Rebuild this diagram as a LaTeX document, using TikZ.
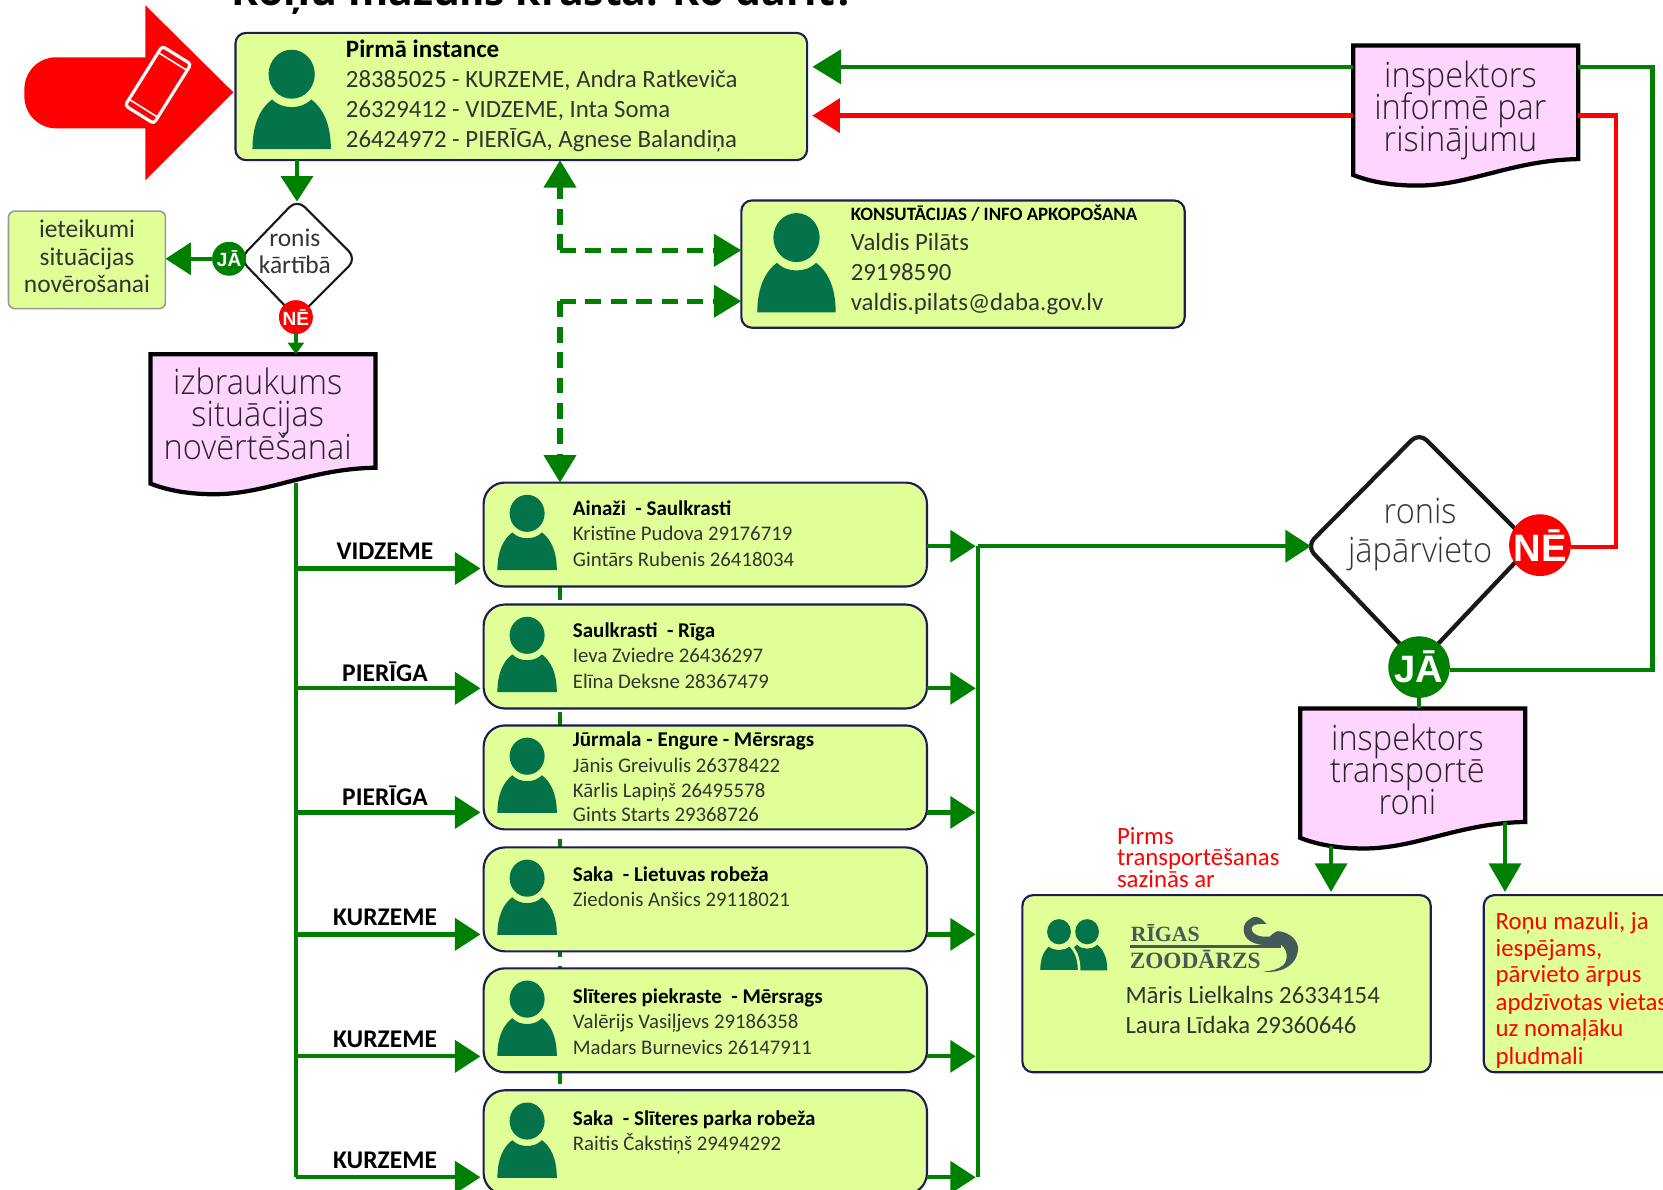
\documentclass[tikz,border=0pt]{standalone}
\usepackage{fontspec}
\usetikzlibrary{arrows.meta,shapes.geometric,calc}
\setmainfont{Carlito}
\newfontfamily\lightf[FakeStretch=0.93]{Open Sans Light}
\newfontfamily\titlef{Open Sans}
\newfontfamily\badgef{Liberation Sans}
\newfontfamily\logof{Liberation Serif}
\setlength{\lineskiplimit}{-100pt}
\definecolor{lime}{HTML}{E0FF96}
\definecolor{pinkdoc}{HTML}{FFD4FF}
\definecolor{grn}{HTML}{008000}
\definecolor{iconc}{HTML}{05734A}
\definecolor{navy}{HTML}{1E1B55}
\definecolor{slatez}{HTML}{43595A}
\definecolor{txt}{HTML}{333333}
\tikzset{
 limebox/.style={draw=navy,line width=2pt,fill=lime,rounded corners=#1,inner sep=0pt,outer sep=0pt,anchor=north west},
 limebox/.default=20pt,
 grline/.style={draw=grn,line width=4pt},
 grarrow/.style={grline,shorten >=3pt,-{Triangle[length=24pt,width=30pt]}},
 grarrowsm/.style={grline,-{Triangle[length=11pt,width=15pt]}},
 dasharrow/.style={grline,line width=5pt,dash pattern=on 15pt off 9pt,-{Triangle[length=26pt,width=30pt]}},
 redarrow/.style={draw=red,line width=4pt,shorten >=4pt,-{Triangle[length=26pt,width=32pt]}},
 docshape/.style={draw=black,line width=4pt,fill=pinkdoc,line join=miter},
 doctext/.style={font=\lightf\fontsize{33}{30.5}\selectfont,align=center,text=black!85,inner sep=0pt},
 diam/.style={draw=black!90,fill=white,line width=#1,rounded corners=10pt,line join=round},
 badgeg/.style={circle,fill=grn,text=white,inner sep=0pt},
 badger/.style={circle,fill=red,text=white,inner sep=0pt},
 region/.style={font=\bfseries\fontsize{24}{24}\selectfont,text=black,inner sep=0pt},
 rowtext/.style={anchor=base west,yshift=-7pt,inner sep=0pt,text=txt,font=\fontsize{19.6}{24}\selectfont},
 rowhead/.style={anchor=base west,yshift=-7pt,inner sep=0pt,text=black,font=\bfseries\fontsize{19.8}{24}\selectfont},
 mainline/.style={anchor=base west,yshift=-7.5pt,inner sep=0pt,text=txt,font=\fontsize{23.4}{28}\selectfont},
 redtext/.style={anchor=base west,yshift=-7.5pt,inner sep=0pt,text=red,font=\fontsize{23.4}{24}\selectfont},
}
\newcommand{\personicon}[3]{\begin{scope}[shift={(#1,#2)},scale=#3]
 \fill[iconc] (0,0) ellipse [x radius=16.5,y radius=17.5];
 \fill[iconc] (-28,53.5) -- (28,53.5) .. controls (28,35) and (22,24) .. (14,18) .. controls (10,22) and (5,23.5) .. (0,23.5) .. controls (-5,23.5) and (-10,22) .. (-14,18) .. controls (-22,24) and (-28,35) .. (-28,53.5) -- cycle;
\end{scope}}
\newcommand{\docpath}[2]{\begin{scope}[shift={(#1,#2)}]
 \path[docshape] (0,0) -- (212,0) -- (212,107) .. controls (150,108) and (110,132) .. (60,132) .. controls (35,132) and (15,128) .. (0,122) -- cycle;
\end{scope}}
\begin{document}
\begin{tikzpicture}[x=1pt,y=-1pt]
\useasboundingbox (0,0) rectangle (1568,1122);
\clip (0,0) rectangle (1568,1122);
\fill[white] (0,0) rectangle (1568,1122);
% title
\node[anchor=base west,inner sep=0pt,font=\titlef\bfseries\fontsize{38.6}{38}\selectfont,text=black] (title) at (218,5) {Roņu mazulis krastā: Ko darīt?};
% routing points
\coordinate (spineTop) at (279,455);
\coordinate (rail) at (922,515);
\coordinate (railEnd) at (922,1110);
% red arrow
\fill[red] (140,54) [rounded corners=30pt] -- (23,54) -- (23,121) [sharp corners] -- (140,121) -- cycle;
\fill[red] (137,5) -- (220,87) -- (137,170) -- cycle;
\begin{scope}[shift={(149,80)},rotate=-32]
 \draw[white,line width=3pt,rounded corners=3pt] (-16,-33) rectangle (16,33);
 \draw[white,line width=1.5pt] (-16,-26) -- (16,-26) (-16,26) -- (16,26);
\end{scope}
% dashed backbone behind boxes
\draw[grline,dash pattern=on 15pt off 9pt] (528,455) -- (528,1122);
% main boxes
\node[limebox=10pt,minimum width=539pt,minimum height=120pt] (inst) at (222,31) {};
\node[limebox=10pt,minimum width=418pt,minimum height=120pt] (kons) at (699,189) {};
\foreach \n/\t in {a/455,b/570,c/684,d/799,e/913,f/1028}{
 \node[limebox,minimum width=418pt,minimum height=98pt] (\n) at (456,\t) {};
 \personicon{497}{\t+29}{1}
}
\personicon{275}{70}{1.32}
\personicon{751}{224}{1.32}
% first instance text
\node[mainline,font=\bfseries\fontsize{23.6}{28}\selectfont,text=black] (t1) at (326,47) {Pirmā instance};
\node[mainline] (t2) at (326,75) {28385025 - KURZEME, Andra Ratkeviča};
\node[mainline] (t3) at (326,103) {26329412 - VIDZEME, Inta Soma};
\node[mainline] (t4) at (326,132) {26424972 - PIERĪGA, Agnese Balandiņa};
% consult
\node[mainline,font=\bfseries\fontsize{17.8}{20}\selectfont,text=black,yshift=1.5pt] (k1) at (802,202) {KONSUTĀCIJAS / INFO APKOPOŠANA};
\node[mainline] (k2) at (802,229) {Valdis Pilāts};
\node[mainline] (k3) at (802,257) {29198590};
\node[mainline] (k4) at (802,285) {valdis.pilats@daba.gov.lv};
% rows
\node[rowhead] (a1) at (540,479) {Ainaži\ \ - Saulkrasti};
\node[rowtext] (a2) at (540,503) {Kristīne Pudova 29176719};
\node[rowtext] (a3) at (540,527) {Gintārs Rubenis 26418034};
\node[rowhead] (b1) at (540,594) {Saulkrasti\ \ - Rīga};
\node[rowtext] (b2) at (540,618) {Ieva Zviedre 26436297};
\node[rowtext] (b3) at (540,642) {Elīna Deksne 28367479};
\node[rowhead] (c1) at (540,697) {Jūrmala - Engure - Mērsrags};
\node[rowtext] (c2) at (540,721) {Jānis Greivulis 26378422};
\node[rowtext] (c3) at (540,745) {Kārlis Lapiņš 26495578};
\node[rowtext] (c4) at (540,768) {Gints Starts 29368726};
\node[rowhead] (d1) at (540,824) {Saka\ \ - Lietuvas robeža};
\node[rowtext] (d2) at (540,848) {Ziedonis Anšics 29118021};
\node[rowhead] (e1) at (540,939) {Slīteres piekraste\ \ - Mērsrags};
\node[rowtext] (e2) at (540,963) {Valērijs Vasiļjevs 29186358};
\node[rowtext] (e3) at (540,987) {Madars Burnevics 26147911};
\node[rowhead] (f1) at (540,1054) {Saka\ \ - Slīteres parka robeža};
\node[rowtext] (f2) at (540,1078) {Raitis Čakstiņš 29494292};
% small decision
\node[draw=black!40,line width=1.5pt,fill=lime,rounded corners=6pt,minimum width=148pt,minimum height=92pt,inner sep=0pt,outer sep=0pt,anchor=north west] (iet) at (8,199) {};
\node[inner sep=0pt,align=center,text=txt,font=\fontsize{24}{26}\selectfont] (ietT) at (82,242) {ieteikumi\\situācijas\\novērošanai};
\coordinate (dqT) at (280,188);
\coordinate (dqR) at (336,244);
\coordinate (dqB) at (280,300);
\coordinate (dqL) at (226,244);
\path[diam=2pt] (dqT) -- (dqR) -- (dqB) -- (dqL) -- cycle;
\node[inner sep=0pt,align=center,text=txt,font=\fontsize{24}{25}\selectfont] (q1) at (278,237) {ronis\\kārtībā};
\node[badgeg,minimum size=32pt,font=\badgef\bfseries\fontsize{18}{18}\selectfont] (ja1) at (216,244) {JĀ};
\node[badger,minimum size=32pt,font=\badgef\bfseries\fontsize{18}{18}\selectfont] (ne1) at (279,299) {NĒ};
% documents
\docpath{142}{334}
\node[doctext] (doc1) at (243,390) {izbraukums\\situācijas\\novērtēšanai};
\docpath{1276}{43}
\node[doctext] (doc2) at (1377,104) {inspektors\\informē par\\risinājumu};
\docpath{1226}{668}
\node[doctext] (doc3) at (1327,725.5) {inspektors\\transportē\\roni};
% big decision
\coordinate (dpT) at (1338,408);
\coordinate (dpR) at (1444,514);
\coordinate (dpB) at (1338,626);
\coordinate (dpL) at (1232,515);
\path[diam=4pt] (dpT) -- (dpR) -- (dpB) -- (dpL) -- cycle;
\node[inner sep=0pt,align=center,text=txt,font=\lightf\fontsize{33}{37}\selectfont] (q2) at (1339,504) {ronis\\jāpārvieto};
\node[badger,minimum size=56pt,font=\badgef\bfseries\fontsize{36}{36}\selectfont] (ne2) at (1452,514) {NĒ};
\node[badgeg,minimum size=58pt,font=\badgef\bfseries\fontsize{36}{36}\selectfont] (ja2) at (1338,629) {JĀ};
% zoo
\node[limebox=10pt,minimum width=385pt,minimum height=167pt] (zoo) at (964,844) {};
\personicon{1025}{878.5}{0.68}
\begin{scope}[shift={(998.5,878.5)},scale=0.68]
 \draw[lime,fill=iconc,line width=2.5pt] (-28,55) -- (28,55) .. controls (28,35) and (22,24) .. (14,18) .. controls (10,22) and (5,23.5) .. (0,23.5) .. controls (-5,23.5) and (-10,22) .. (-14,18) .. controls (-22,24) and (-28,35) .. (-28,55) -- cycle;
 \fill[iconc] (0,0) ellipse [x radius=16.5,y radius=17.5];
\end{scope}
\node[anchor=base west,inner sep=0pt,text=slatez,font=\logof\bfseries\fontsize{20.5}{21}\selectfont] (z1) at (1066,888) {RĪGAS};
\node[anchor=base west,inner sep=0pt,text=slatez,font=\logof\bfseries\fontsize{22}{23}\selectfont] (z2) at (1065,913.5) {ZOODĀRZS};
\draw[slatez,line width=2.5pt] (1065,892.6) -- (1208,892.6);
\fill[slatez] (1194,871) .. controls (1190,866) and (1185,863) .. (1181,865) .. controls (1175,868) and (1172,872) .. (1172.6,877) .. controls (1173,885) and (1180,890) .. (1191,891) .. controls (1197,892) and (1203,891) .. (1208,891) .. controls (1214,895) and (1215,905) .. (1210,910) .. controls (1205,914) and (1198,916) .. (1191,916) .. controls (1205,918) and (1224,912) .. (1224,893) .. controls (1222,882) and (1210,878) .. (1205,878) .. controls (1202,878) and (1200,881) .. (1197,883) .. controls (1190,884) and (1180,882) .. (1180,875) .. controls (1181,871) and (1188,871) .. (1194,871) -- cycle;
\node[mainline] (z3) at (1061,939) {Māris Lielkalns 26334154};
\node[mainline] (z4) at (1061,967) {Laura Līdaka 29360646};
\node[limebox=10pt,minimum width=210pt,minimum height=167pt] (pup) at (1399,844) {};
\node[redtext] (p1) at (1410,869) {Roņu mazuli, ja};
\node[redtext] (p2) at (1410,894) {iespējams,};
\node[redtext] (p3) at (1410,919) {pārvieto ārpus};
\node[redtext] (p4) at (1410,945) {apdzīvotas vietas};
\node[redtext] (p5) at (1410,970) {uz nomaļāku};
\node[redtext] (p6) at (1410,996) {pludmali};
\node[redtext] (r1) at (1053,789) {Pirms};
\node[redtext] (r2) at (1053,809) {transportēšanas};
\node[redtext] (r3) at (1053,829) {sazinās ar};
% connectors
\draw[grarrow,shorten >=0pt] (inst.south -| 280,0) -- (280,190);
\draw[grarrow,shorten >=0pt] (ja1) -- (ja1 -| iet.east);
\draw[grarrowsm] (ne1) -- (ne1 |- 0,334);
\draw[grline,line width=3.5pt] (spineTop) -- (279,1110);
\foreach \y/\lab/\nm/\ey in {536/VIDZEME/a/515,649/PIERĪGA/b/649,766/PIERĪGA/c/766,881/KURZEME/d/881,996/KURZEME/e/996,1110/KURZEME/f/1110}{
 \draw[grarrow] (279,\y) -- (\nm.west |- 0,\y);
 \node[region] (lab\nm) at (363,\y-16) {\lab};
 \draw[grarrow,shorten >=0pt] (\nm.east |- 0,\ey) -- (920,\ey);
}
\draw[grline,line width=3.5pt] (rail) -- (railEnd);
\draw[grarrow,shorten >=0pt] (rail) -- ($(rail -| dpL)+(4,0)$);
% dashed
\coordinate (dash1) at (528,236);
\coordinate (dash2) at (528,284);
\draw[dasharrow] (dash1) -- (kons.west |- dash1);
\draw[dasharrow] (dash1) -- (inst.south -| dash1);
\draw[dasharrow] (dash2) -- (kons.west |- dash2);
\draw[dasharrow] (dash2) -- (a.north -| dash2);
% right loop
\draw[grarrow,shorten >=5pt,-{Triangle[length=27pt,width=32pt]}] (1276,63) -- (inst.east |- 0,63);
\draw[redarrow,shorten >=5pt] (1276,109) -- (inst.east |- 0,109);
\coordinate (grCorner) at (1558,632);
\coordinate (redCorner) at (1524,516);
\draw[grline] (ja2.east |- grCorner) -- (grCorner) -- (1558,63) -- (1488,63);
\draw[draw=red,line width=4pt] (ne2.east |- redCorner) -- (redCorner) -- (1524,109) -- (1488,109);
\draw[grline] (ja2) -- (1338,668);
\coordinate (dropA) at (1255,798);
\coordinate (dropB) at (1419,775);
\draw[grarrow,-{Triangle[length=27pt,width=30pt]}] (dropA) -- (dropA |- zoo.north);
\draw[grarrow,-{Triangle[length=27pt,width=30pt]}] (dropB) -- (dropB |- pup.north);
\end{tikzpicture}
\end{document}
